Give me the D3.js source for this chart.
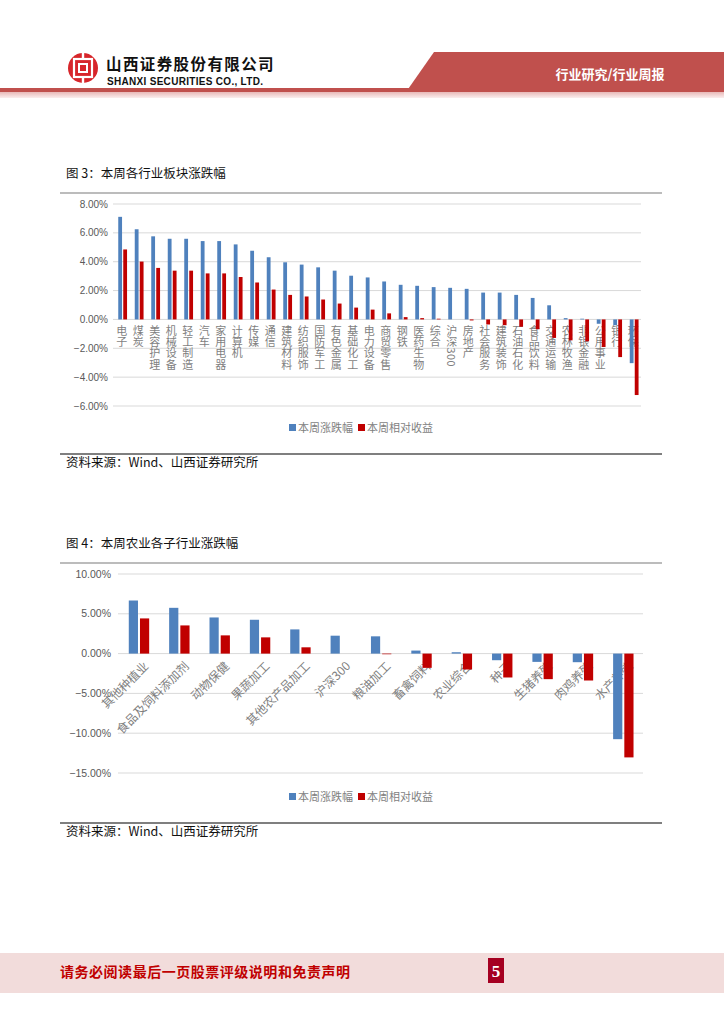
<!DOCTYPE html>
<html><head><meta charset="utf-8">
<script src="https://cdn.jsdelivr.net/npm/d3@7"></script>
<style>
body{margin:0;background:#fff;}
svg{display:block;font-family:"Noto Sans CJK SC","Noto Sans",sans-serif;}
</style></head>
<body><svg id="page" width="724" height="1024"></svg>
<script>
// ---- Data: Figure 3 ----
const industries = ["电子","煤炭","美容护理","机械设备","轻工制造","汽车","家用电器","计算机","传媒","通信","建筑材料","纺织服饰","国防军工","有色金属","基础化工","电力设备","商贸零售","钢铁","医药生物","综合","沪深300","房地产","社会服务","建筑装饰","石油石化","食品饮料","交通运输","农林牧渔","非银金融","公用事业","银行","环保"];
const industryWeekly = [7.11,6.25,5.76,5.59,5.59,5.43,5.43,5.20,4.76,4.31,3.96,3.80,3.61,3.38,3.03,2.91,2.63,2.40,2.33,2.24,2.19,2.12,1.86,1.86,1.70,1.49,0.98,0.09,0.05,-0.30,-0.40,-3.03];
const industryRelative = [4.85,4.01,3.57,3.38,3.38,3.19,3.19,2.94,2.56,2.07,1.70,1.59,1.38,1.10,0.82,0.68,0.42,0.16,0.09,0.05,0,-0.07,-0.35,-0.40,-0.51,-0.68,-1.28,-1.45,-1.52,-1.91,-2.61,-5.24];
const ticks1 = [8,6,4,2,0,-2,-4,-6];

// ---- Data: Figure 4 ----
const agriSubs = ["其他种植业","食品及饲料添加剂","动物保健","果蔬加工","其他农产品加工","沪深300","粮油加工","畜禽饲料","农业综合","种子","生猪养殖","肉鸡养殖","水产养殖"];
const agriWeekly = [6.67,5.75,4.54,4.25,3.04,2.25,2.17,0.38,0.17,-0.83,-1.04,-1.08,-10.75];
const agriRelative = [4.42,3.54,2.29,2.04,0.79,0,-0.08,-1.79,-2.00,-3.00,-3.21,-3.38,-13.04];
const ticks2 = [10,5,0,-5,-10,-15];

const seriesNames = ["本周涨跌幅","本周相对收益"];
const colors = ["#4f81bd","#c00000"];

const svg = d3.select("#page");

// ---- Header ----
const hdr = svg.append("g");
hdr.append("path").attr("d","M434,52 L724,52 L724,92 L406,92 Z").attr("fill","#c0504d");
hdr.append("rect").attr("x",0).attr("y",88).attr("width",420).attr("height",4).attr("fill","#c0504d");
const grad = svg.append("defs").append("linearGradient").attr("id","pk").attr("x1",0).attr("y1",0).attr("x2",0).attr("y2",1);
grad.append("stop").attr("offset","0").attr("stop-color","#e8b9b8");
grad.append("stop").attr("offset","1").attr("stop-color","#fbeeee");
hdr.append("rect").attr("x",0).attr("y",92).attr("width",724).attr("height",6).attr("fill","url(#pk)");
hdr.append("text").attr("x",610).attr("y",79).attr("text-anchor","middle").attr("fill","#fff")
  .attr("font-size",13).attr("font-weight","bold").text("行业研究/行业周报");
// logo
const lg = hdr.append("g").attr("transform","translate(83,68)");
lg.append("circle").attr("r",15).attr("fill","#d7262b");
lg.append("rect").attr("x",-9).attr("y",-9).attr("width",18).attr("height",18).attr("fill","none").attr("stroke","#fff").attr("stroke-width",2.2);
lg.append("rect").attr("x",-4).attr("y",-4).attr("width",8).attr("height",8).attr("fill","none").attr("stroke","#fff").attr("stroke-width",2);
lg.append("rect").attr("x",-1.2).attr("y",-15).attr("width",2.4).attr("height",6).attr("fill","#fff");
lg.append("rect").attr("x",-1.2).attr("y",9).attr("width",2.4).attr("height",6).attr("fill","#fff");
hdr.append("text").attr("x",106).attr("y",70).attr("font-size",15.5).attr("font-weight","bold").attr("fill","#111")
  .attr("letter-spacing",1.4).text("山西证券股份有限公司");
hdr.append("text").attr("x",107).attr("y",85).attr("font-size",10).attr("font-weight","bold").attr("fill","#111")
  .attr("font-family","'Liberation Sans',Arial,sans-serif").attr("textLength",156).text("SHANXI SECURITIES CO., LTD.");

// ---- Figure block helper ----
function figureFrame(title, titleY, lineY, srcLineY, srcY){
  svg.append("text").attr("x",66).attr("y",titleY).attr("font-size",12.5).attr("fill","#111").text(title);
  svg.append("line").attr("x1",60).attr("x2",662).attr("y1",lineY).attr("y2",lineY).attr("stroke","#a6a6a6").attr("stroke-width",1.5);
  svg.append("line").attr("x1",60).attr("x2",662).attr("y1",srcLineY).attr("y2",srcLineY).attr("stroke","#555").attr("stroke-width",1.5);
  svg.append("text").attr("x",66).attr("y",srcY).attr("font-size",12.5).attr("fill","#111").text("资料来源：Wind、山西证券研究所");
}
function legend(y){
  const g = svg.append("g");
  const items = [{x:289,tx:298},{x:358,tx:367}];
  items.forEach((it,i)=>{
    g.append("rect").attr("x",it.x).attr("y",y-4).attr("width",7).attr("height",7).attr("fill",colors[i]);
    g.append("text").attr("x",it.tx).attr("y",y+4).attr("font-size",11).attr("fill","#7f7f7f").text(seriesNames[i]);
  });
}

// ---- Figure 3 ----
figureFrame("图 3：本周各行业板块涨跌幅",178,193,454,467);
{
  const y = d3.scaleLinear().domain([-6,8]).range([406,204]);
  const x = d3.scaleBand().domain(industries).range([114.4,642.4]);
  const g = svg.append("g");
  g.selectAll("line.grid").data(ticks1).join("line").attr("class","grid")
    .attr("x1",113).attr("x2",641).attr("y1",d=>y(d)).attr("y2",d=>y(d)).attr("stroke","#d9d9d9").attr("stroke-width",1);
  g.selectAll("text.tk").data(ticks1).join("text").attr("class","tk")
    .attr("x",108).attr("y",d=>y(d)+3.5).attr("text-anchor","end").attr("font-size",10).attr("fill","#595959")
    .attr("font-family","'Liberation Sans',Arial,sans-serif").text(d=>d3.format(".2f")(d)+"%");
  // category labels (vertical)
  g.selectAll("text.cat").data(industries).join("text").attr("class","cat")
    .attr("x",d=>x(d)+x.bandwidth()/2-0.8).attr("y",325)
    .attr("writing-mode","vertical-rl").attr("letter-spacing",0.3)
    .attr("font-size",11).attr("fill","#7f7f7f").text(d=>d);
  const bw = 3.8;
  [industryWeekly, industryRelative].forEach((vals,si)=>{
    g.selectAll("rect.s"+si).data(industries).join("rect").attr("class","s"+si)
      .attr("x",(d)=>x(d)+x.bandwidth()/2 + (si===0? -bw-0.6 : 0.6))
      .attr("width",bw)
      .attr("y",(d,i)=>y(Math.max(0,vals[i])))
      .attr("height",(d,i)=>Math.abs(y(vals[i])-y(0)))
      .attr("fill",colors[si]);
  });
  legend(428);
}

// ---- Figure 4 ----
figureFrame("图 4：本周农业各子行业涨跌幅",548,563,823,836);
{
  const y = d3.scaleLinear().domain([-15,10]).range([773,574]);
  const x = d3.scaleBand().domain(agriSubs).range([118.8,643.5]);
  const g = svg.append("g");
  g.selectAll("line.grid").data(ticks2).join("line").attr("class","grid")
    .attr("x1",118).attr("x2",643).attr("y1",d=>y(d)).attr("y2",d=>y(d)).attr("stroke","#d9d9d9").attr("stroke-width",1);
  g.selectAll("text.tk").data(ticks2).join("text").attr("class","tk")
    .attr("x",111).attr("y",d=>y(d)+3.5).attr("text-anchor","end").attr("font-size",10.5).attr("fill","#595959")
    .attr("font-family","'Liberation Sans',Arial,sans-serif").text(d=>d3.format(".2f")(d)+"%");
  g.selectAll("text.cat").data(agriSubs).join("text").attr("class","cat")
    .attr("transform",d=>`translate(${x(d)+x.bandwidth()/2+8},${y(0)+11}) rotate(-45)`)
    .attr("text-anchor","end").attr("dominant-baseline","middle").attr("font-size",12).attr("fill","#7f7f7f").text(d=>d);
  const bw = 9.2;
  [agriWeekly, agriRelative].forEach((vals,si)=>{
    g.selectAll("rect.s"+si).data(agriSubs).join("rect").attr("class","s"+si)
      .attr("x",(d)=>x(d)+x.bandwidth()/2 + (si===0? -bw-1 : 1))
      .attr("width",bw)
      .attr("y",(d,i)=>y(Math.max(0,vals[i])))
      .attr("height",(d,i)=>Math.abs(y(vals[i])-y(0)))
      .attr("fill",colors[si]);
  });
  legend(797);
}

// ---- Footer ----
svg.append("rect").attr("x",0).attr("y",953).attr("width",724).attr("height",40).attr("fill","#f2dcdb");
svg.append("text").attr("x",60).attr("y",977).attr("font-size",14).attr("font-weight","bold").attr("fill","#c00000")
  .attr("textLength",290).text("请务必阅读最后一页股票评级说明和免责声明");
svg.append("rect").attr("x",488).attr("y",958).attr("width",16).attr("height",25).attr("fill","#a50021");
svg.append("text").attr("x",496).attr("y",977).attr("text-anchor","middle").attr("font-size",17).attr("font-weight","bold")
  .attr("fill","#fff").attr("font-family","'Liberation Serif',serif").text("5");
</script></body></html>
